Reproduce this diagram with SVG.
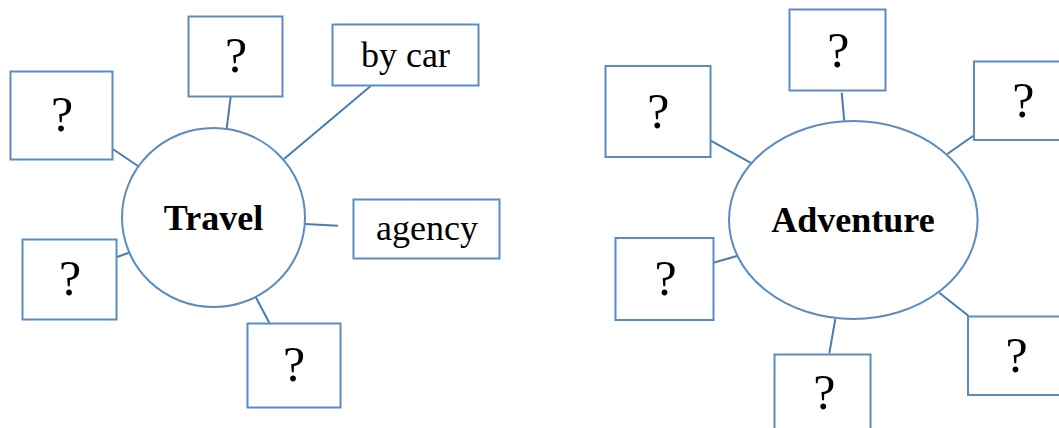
<svg xmlns="http://www.w3.org/2000/svg" width="1059" height="428" viewBox="0 0 1059 428">
<style>
.box{fill:#fff;stroke:#5a8cc2;stroke-width:2}
.hub{fill:#fff;stroke:#5a8cc2;stroke-width:2}
.con line{stroke:#4a7caf;stroke-width:2}
.q{font-family:"Liberation Serif",serif;font-size:50px;text-anchor:middle;fill:#000}
.t{font-family:"Liberation Serif",serif;font-size:36px;text-anchor:middle;fill:#000}
.h{font-family:"Liberation Serif",serif;font-size:36px;font-weight:bold;text-anchor:middle;fill:#000}
</style>
<rect width="1059" height="428" fill="#fff"/>
<g id="connectors" class="con">
<line x1="112.7" y1="149" x2="138" y2="166"/>
<line x1="230.7" y1="96.7" x2="226.7" y2="128.3"/>
<line x1="371" y1="85.7" x2="284" y2="159"/>
<line x1="305" y1="224" x2="338" y2="225.7"/>
<line x1="117" y1="257" x2="129" y2="252.7"/>
<line x1="255.7" y1="297" x2="269.3" y2="322.7"/>
<line x1="710.7" y1="140.7" x2="751.7" y2="163.3"/>
<line x1="841.7" y1="92.7" x2="844.3" y2="121"/>
<line x1="973.3" y1="135.7" x2="947.3" y2="154"/>
<line x1="713.3" y1="262.7" x2="737" y2="256"/>
<line x1="835.3" y1="319" x2="829.3" y2="353.3"/>
<line x1="939.3" y1="292.7" x2="968.3" y2="315.7"/>
</g>
<g id="travel"><ellipse class="hub" cx="213.5" cy="217.5" rx="91.5" ry="89.5"/><text class="h" x="213.5" y="230">Travel</text></g>
<g id="t-tl"><rect class="box" x="10.5" y="71.5" width="102" height="88"/><text class="q" x="62" y="131">?</text></g>
<g id="t-top"><rect class="box" x="188.5" y="16.5" width="94" height="80"/><text class="q" x="236" y="72">?</text></g>
<g id="t-bycar"><rect class="box" x="332.5" y="24.5" width="146" height="61"/><text class="t" x="405.5" y="67">by car</text></g>
<g id="t-agency"><rect class="box" x="353.5" y="199.5" width="146" height="59"/><text class="t" x="427" y="240">agency</text></g>
<g id="t-bl"><rect class="box" x="22.5" y="239.5" width="94" height="80"/><text class="q" x="70" y="295">?</text></g>
<g id="t-bottom"><rect class="box" x="247.5" y="323.5" width="93" height="84"/><text class="q" x="294" y="381">?</text></g>
<g id="adventure"><ellipse class="hub" cx="853.3" cy="220" rx="124.3" ry="99"/><text class="h" x="853" y="231.5">Adventure</text></g>
<g id="a-tl"><rect class="box" x="605.5" y="66" width="105" height="91"/><text class="q" x="658.3" y="127.5">?</text></g>
<g id="a-top"><rect class="box" x="789.5" y="9.5" width="96" height="81"/><text class="q" x="838.3" y="66.5">?</text></g>
<g id="a-tr"><rect class="box" x="974" y="61.5" width="98" height="78.5"/><text class="q" x="1023.3" y="116.5">?</text></g>
<g id="a-bl"><rect class="box" x="615.5" y="238" width="98" height="82"/><text class="q" x="665.7" y="295">?</text></g>
<g id="a-bottom"><rect class="box" x="774.5" y="354.5" width="96" height="80"/><text class="q" x="824.3" y="409">?</text></g>
<g id="a-br"><rect class="box" x="968" y="316.5" width="98" height="78.5"/><text class="q" x="1016.7" y="371.5">?</text></g>
</svg>
